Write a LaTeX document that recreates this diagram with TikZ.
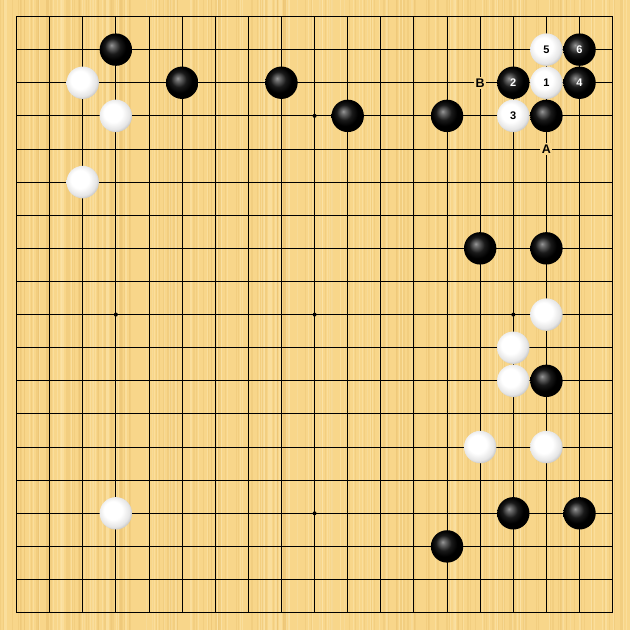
\documentclass[tikz,border=0pt]{standalone}
\usepackage{fontspec}
\setmainfont{Liberation Sans}
\definecolor{boardc}{HTML}{F8D68A}
\definecolor{stripec}{HTML}{EBC273}
\definecolor{lightstripec}{HTML}{FCE6AE}
\pgfdeclareradialshading{blackstone}{\pgfpoint{-7bp}{7bp}}{color(0bp)=(black!40); color(3bp)=(black!55); color(12bp)=(black!90); color(20bp)=(black); color(50bp)=(black)}
\pgfdeclareradialshading{whitestone}{\pgfpoint{-6bp}{6bp}}{color(0bp)=(white); color(14bp)=(white); color(24bp)=(black!10); color(31bp)=(black!30); color(50bp)=(black!40)}
\tikzset{
  gridline/.style={line width=0.9pt, black},
  bstone/.style={circle, minimum size=32.4pt, inner sep=0pt, shading=blackstone, text=white, font=\fontsize{11}{11}\selectfont\bfseries},
  wstone/.style={circle, minimum size=32.4pt, inner sep=0pt, shading=whitestone, text=black, font=\fontsize{11}{11}\selectfont\bfseries},
  hoshi/.style={circle, fill=black, minimum size=4pt, inner sep=0pt},
  boardlabel/.style={fill=boardc, inner sep=1.5pt, font=\fontsize{12.5}{12.5}\selectfont\bfseries}
}
\begin{document}
\begin{tikzpicture}[x=1pt,y=-1pt]
\useasboundingbox (0,0) rectangle (630,630);
\fill[boardc] (0,0) rectangle (630,630);
\pgfmathsetseed{7}
\foreach \k in {1,...,180} {
  \pgfmathsetmacro{\xx}{630*rnd}
  \pgfmathsetmacro{\ww}{0.4+1.2*rnd}
  \fill[stripec, opacity=0.4] (\xx,0) rectangle ({\xx+\ww},630);
}
\foreach \k in {1,...,120} {
  \pgfmathsetmacro{\xx}{630*rnd}
  \pgfmathsetmacro{\ww}{0.4+1.0*rnd}
  \fill[lightstripec, opacity=0.5] (\xx,0) rectangle ({\xx+\ww},630);
}
\begin{scope}[shift={(16.5,16.5)}, x=33.12pt, y=-33.12pt]
  \foreach \i in {0,...,18} {
    \draw[gridline] (\i,0) -- (\i,18);
    \draw[gridline] (0,\i) -- (18,\i);
  }
  \draw[line width=1.6pt] (0,0) rectangle (18,18);
  \foreach \a/\b in {3/3,9/3,15/3,3/9,9/9,15/9,3/15,9/15,15/15}
    \node[hoshi] at (\a,\b) {};
  % labels
  \node[boardlabel] (lA) at (16,4) {A};
  \node[boardlabel] (lB) at (14,2) {B};
  % black stones
  \node[bstone] (b1) at (3,1) {};
  \node[bstone] (b2) at (5,2) {};
  \node[bstone] (b3) at (8,2) {};
  \node[bstone] (b4) at (10,3) {};
  \node[bstone] (b5) at (13,3) {};
  \node[bstone] (b6) at (16,3) {};
  \node[bstone] (b7) at (14,7) {};
  \node[bstone] (b8) at (16,7) {};
  \node[bstone] (b9) at (16,11) {};
  \node[bstone] (b10) at (15,15) {};
  \node[bstone] (b11) at (17,15) {};
  \node[bstone] (b12) at (13,16) {};
  \node[bstone] (m2) at (15,2) {2};
  \node[bstone] (m4) at (17,2) {4};
  \node[bstone] (m6) at (17,1) {6};
  % white stones
  \node[wstone] (w1) at (2,2) {};
  \node[wstone] (w2) at (3,3) {};
  \node[wstone] (w3) at (2,5) {};
  \node[wstone] (w4) at (16,9) {};
  \node[wstone] (w5) at (15,10) {};
  \node[wstone] (w6) at (15,11) {};
  \node[wstone] (w7) at (14,13) {};
  \node[wstone] (w8) at (16,13) {};
  \node[wstone] (w9) at (3,15) {};
  \node[wstone] (m1) at (16,2) {1};
  \node[wstone] (m3) at (15,3) {3};
  \node[wstone] (m5) at (16,1) {5};
\end{scope}
\end{tikzpicture}
\end{document}
